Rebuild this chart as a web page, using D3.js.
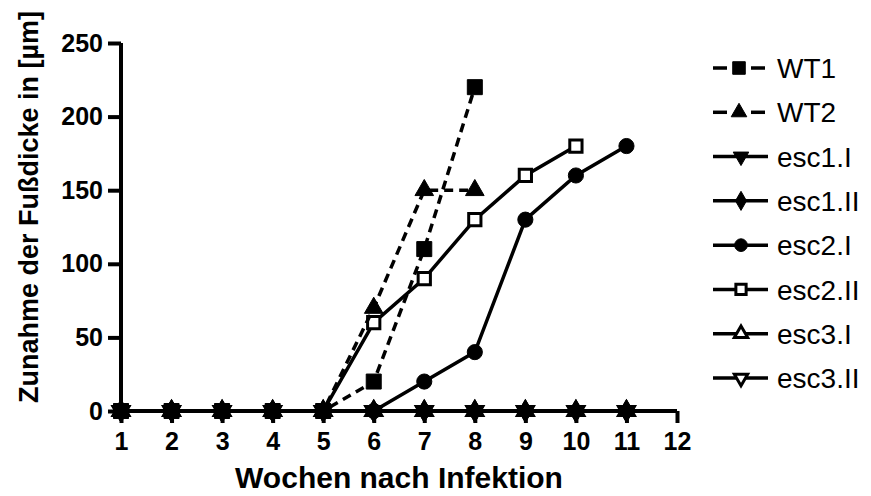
<!DOCTYPE html>
<html>
<head>
<meta charset="utf-8">
<script src="https://cdn.jsdelivr.net/npm/d3@7"></script>
<style>
  body { margin: 0; background: #fff; }
  svg { display: block; font-family: "Liberation Sans", Arial, sans-serif; }
</style>
</head>
<body>
<script>
// weeks after infection
const weeks = [1, 2, 3, 4, 5, 6, 7, 8, 9, 10, 11];
const xTicks = [1, 2, 3, 4, 5, 6, 7, 8, 9, 10, 11, 12];
const yTicks = [0, 50, 100, 150, 200, 250];

// foot thickness increase (µm) per series
const wt1 = [0, 0, 0, 0, 0, 20, 110, 220];
const wt2 = [0, 0, 0, 0, 0, 70, 150, 150];
const esc1I = [0, 0, 0, 0, 0, 0, 0, 0, 0, 0, 0];
const esc1II = [0, 0, 0, 0, 0, 0, 0, 0, 0, 0, 0];
const esc2I = [0, 0, 0, 0, 0, 0, 20, 40, 130, 160, 180];
const esc2II = [0, 0, 0, 0, 0, 60, 90, 130, 160, 180];
const esc3I = [0, 0, 0, 0, 0, 0, 0, 0, 0, 0, 0];
const esc3II = [0, 0, 0, 0, 0, 0, 0, 0, 0, 0, 0];

const seriesNames = ["WT1", "WT2", "esc1.I", "esc1.II", "esc2.I", "esc2.II", "esc3.I", "esc3.II"];
const seriesValues = [wt1, wt2, esc1I, esc1II, esc2I, esc2II, esc3I, esc3II];

const W = 871, H = 496;
const svg = d3.select("body").append("svg")
  .attr("width", W)
  .attr("height", H);

const x = d3.scaleLinear().domain([1, 12]).range([121, 677]);
const y = d3.scaleLinear().domain([0, 250]).range([411, 43]);

// marker look for each series
const markers = {
  "WT1": { type: d3.symbolSquare, size: 225, fill: "#000", rot: 0 },
  "WT2": { type: d3.symbolTriangle, size: 150, fill: "#000", rot: 0 },
  "esc1.I": { type: d3.symbolTriangle, size: 150, fill: "#000", rot: 180 },
  "esc1.II": { type: d3.symbolDiamond, size: 150, fill: "#000", rot: 0 },
  "esc2.I": { type: d3.symbolCircle, size: 180, fill: "#000", rot: 0 },
  "esc2.II": { type: d3.symbolSquare, size: 150, fill: "#fff", rot: 0 },
  "esc3.I": { type: d3.symbolTriangle, size: 110, fill: "#fff", rot: 0 },
  "esc3.II": { type: d3.symbolTriangle, size: 110, fill: "#fff", rot: 180 }
};
const dashed = (name) => name.startsWith("WT");

const series = seriesNames.map((name, i) => ({
  name: name,
  points: seriesValues[i].map((v, j) => ({ week: weeks[j], value: v }))
}));

// axes
const xAxis = d3.axisBottom(x).tickValues(xTicks).tickSize(12).tickPadding(9).tickFormat(d3.format("d"));
const yAxis = d3.axisLeft(y).tickValues(yTicks).tickSize(13).tickPadding(5);

const gx = svg.append("g").attr("transform", "translate(0,411)").call(xAxis);
const gy = svg.append("g").attr("transform", "translate(121,0)").call(yAxis);

[gx, gy].forEach((g) => {
  g.select(".domain").attr("stroke-width", 4).attr("stroke", "#000")
    .attr("d", g === gx ? "M121,0H677" : "M0,411V43");
  g.selectAll(".tick line").attr("stroke-width", 4).attr("stroke", "#000");
  g.selectAll(".tick text")
    .attr("fill", "#000")
    .attr("font-size", 25)
    .attr("font-weight", "bold")
    .attr("font-family", "'Liberation Sans', Arial, sans-serif");
});
gx.selectAll(".tick text").attr("dy", "0.71em");

// axis titles
svg.append("text")
  .attr("x", 399)
  .attr("y", 488)
  .attr("text-anchor", "middle")
  .attr("font-size", 30)
  .attr("font-weight", "bold")
  .text("Wochen nach Infektion");

svg.append("text")
  .attr("transform", "translate(38,207) rotate(-90)")
  .attr("text-anchor", "middle")
  .attr("font-size", 27)
  .attr("font-weight", "bold")
  .text("Zunahme der Fußdicke in [µm]");

// lines and markers, drawn last-to-first so WT1 sits on top
const line = d3.line().x((d) => x(d.week)).y((d) => y(d.value));
const plot = svg.append("g");

series.slice().reverse().forEach((s) => {
  const g = plot.append("g");
  g.append("path")
    .datum(s.points)
    .attr("fill", "none")
    .attr("stroke", "#000")
    .attr("stroke-width", 3.5)
    .attr("stroke-dasharray", dashed(s.name) ? "9,6" : null)
    .attr("d", line);
  const m = markers[s.name];
  g.selectAll("path.pt")
    .data(s.points)
    .join("path")
    .attr("class", "pt")
    .attr("d", d3.symbol().type(m.type).size(m.size))
    .attr("transform", (d) => `translate(${x(d.week)},${y(d.value)}) rotate(${m.rot})`)
    .attr("fill", m.fill)
    .attr("stroke", "#000")
    .attr("stroke-width", m.fill === "#fff" ? 3 : 1);
});

// legend
const legend = svg.append("g");
const rowY = d3.scaleLinear().domain([0, 7]).range([68, 378]);

series.forEach((s, i) => {
  const g = legend.append("g").attr("transform", `translate(0,${rowY(i)})`);
  if (dashed(s.name)) {
    g.append("line").attr("x1", 713).attr("x2", 727).attr("y1", 0).attr("y2", 0)
      .attr("stroke", "#000").attr("stroke-width", 3.5);
    g.append("line").attr("x1", 751).attr("x2", 765).attr("y1", 0).attr("y2", 0)
      .attr("stroke", "#000").attr("stroke-width", 3.5);
  } else {
    g.append("line").attr("x1", 713).attr("x2", 768).attr("y1", 0).attr("y2", 0)
      .attr("stroke", "#000").attr("stroke-width", 3.5);
  }
  const m = markers[s.name];
  g.append("path")
    .attr("d", d3.symbol().type(m.type).size(m.size * 0.7))
    .attr("transform", `translate(${dashed(s.name) ? 739 : 741},0) rotate(${m.rot})`)
    .attr("fill", m.fill)
    .attr("stroke", "#000")
    .attr("stroke-width", m.fill === "#fff" ? 3 : 1);
  g.append("text")
    .attr("x", 777)
    .attr("y", 0)
    .attr("dy", "0.36em")
    .attr("font-size", 28)
    .text(s.name);
});
</script>
</body>
</html>
